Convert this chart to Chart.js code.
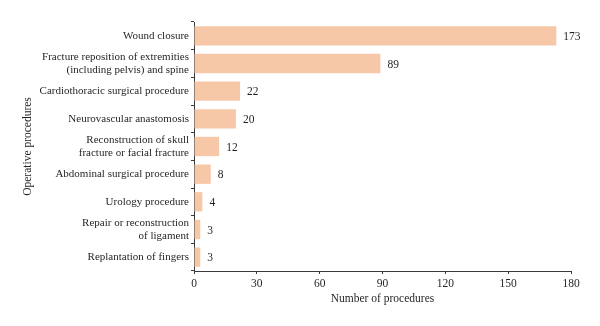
<!DOCTYPE html>
<html>
<head>
<meta charset="utf-8">
<script src="https://cdn.jsdelivr.net/npm/chart.js@4/dist/chart.umd.min.js"></script>
<style>
html,body{margin:0;padding:0;background:#fff;}
#wrap{width:600px;height:326px;}
</style>
</head>
<body>
<div id="wrap"><canvas id="c" width="600" height="326"></canvas></div>
<script>
const categories = [
  "Wound closure",
  ["Fracture reposition of extremities", "(including pelvis) and spine"],
  "Cardiothoracic surgical procedure",
  "Neurovascular anastomosis",
  ["Reconstruction of skull", "fracture or facial fracture"],
  "Abdominal surgical procedure",
  "Urology procedure",
  ["Repair or reconstruction", "of ligament"],
  "Replantation of fingers"
];
const procedureCounts = [173, 89, 22, 20, 12, 8, 4, 3, 3];
const xTickValues = [0, 30, 60, 90, 120, 150, 180];

const FONT = "'Liberation Serif', 'Times New Roman', serif";
const TXT = "#231f20";

const valueLabels = {
  id: 'valueLabels',
  afterDatasetsDraw(chart) {
    const ctx = chart.ctx;
    const meta = chart.getDatasetMeta(0);
    ctx.save();
    ctx.font = "11.5px " + FONT;
    ctx.fillStyle = TXT;
    ctx.textAlign = 'left';
    ctx.textBaseline = 'middle';
    meta.data.forEach((bar, i) => {
      ctx.fillText(String(procedureCounts[i]), bar.x + 7, bar.y + 1);
    });
    ctx.restore();
  }
};

new Chart(document.getElementById('c'), {
  type: 'bar',
  data: {
    labels: categories,
    datasets: [{
      data: procedureCounts,
      backgroundColor: '#f7c8a8',
      borderWidth: 0,
      categoryPercentage: 0.7,
      barPercentage: 1.0
    }]
  },
  options: {
    indexAxis: 'y',
    responsive: false,
    animation: false,
    devicePixelRatio: 1,
    layout: { padding: { top: 22, right: 29, left: 21, bottom: 20 } },
    plugins: { legend: { display: false }, tooltip: { enabled: false } },
    scales: {
      x: {
        min: 0, max: 180,
        afterBuildTicks: (s) => { s.ticks = xTickValues.map(v => ({ value: v })); },
        afterFit: (s) => { s.height = 35; },
        border: { display: true, color: '#3a3a3a', width: 1 },
        grid: { drawOnChartArea: false, drawTicks: true, tickLength: 3, color: '#3a3a3a' },
        ticks: { color: TXT, font: { family: FONT, size: 11.5 }, padding: 3, maxRotation: 0 },
        title: { display: true, text: 'Number of procedures', color: TXT, font: { family: FONT, size: 11.5 }, padding: { top: 2, bottom: 0 } }
      },
      y: {
        afterFit: (s) => { s.width = 173; },
        border: { display: true, color: '#3a3a3a', width: 1 },
        grid: { drawOnChartArea: false, drawTicks: true, tickLength: 3, offset: true, color: '#3a3a3a' },
        ticks: { color: TXT, font: { family: FONT, size: 11, lineHeight: 1.2 }, padding: 2, autoSkip: false },
        title: { display: true, text: 'Operative procedures', color: TXT, font: { family: FONT, size: 11.5 }, padding: { top: 0, bottom: 0 } }
      }
    }
  },
  plugins: [valueLabels]
});
</script>
</body>
</html>
